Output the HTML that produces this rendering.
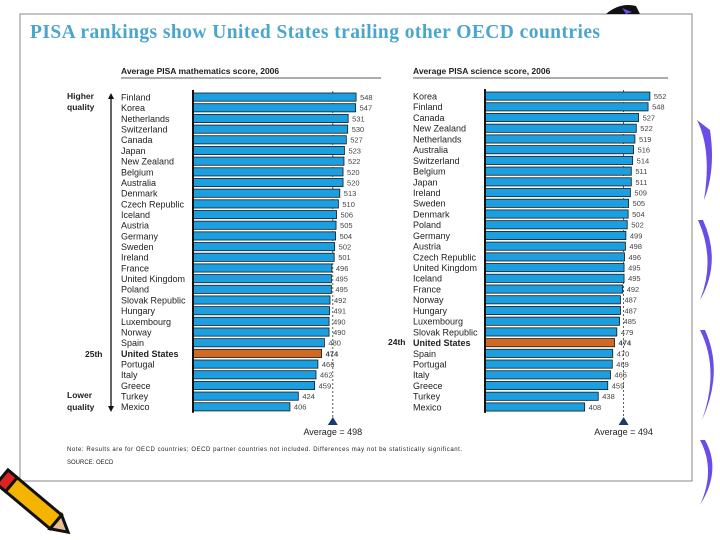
<!DOCTYPE html>
<html><head><meta charset="utf-8"><style>
body{margin:0;width:720px;height:540px;background:#fff;overflow:hidden;font-family:"Liberation Sans",sans-serif}
svg{position:absolute;left:0;top:0}
</style></head><body>
<svg id="s" width="720" height="540">
 <rect x="20" y="14" width="672" height="467" fill="#fff" stroke="#888" stroke-width="1"/>
 <text x="30" y="38" font-family="Liberation Serif,serif" font-weight="bold" font-size="19.5" fill="#4ba6cc" textLength="570">PISA rankings show United States trailing other OECD countries</text>
 <text x="121" y="74" font-size="8.5" font-weight="bold" fill="#222">Average PISA mathematics score, 2006</text>
 <line x1="121" y1="78" x2="381" y2="78" stroke="#222" stroke-width="0.8"/>
 <text x="413" y="74" font-size="8.5" font-weight="bold" fill="#222">Average PISA science score, 2006</text>
 <line x1="413" y1="78" x2="668" y2="78" stroke="#222" stroke-width="0.8"/>
 <text x="67" y="99" font-size="8.5" font-weight="bold" fill="#222">Higher</text>
 <text x="67" y="110" font-size="8.5" font-weight="bold" fill="#222">quality</text>
 <text x="67" y="398" font-size="8.5" font-weight="bold" fill="#222">Lower</text>
 <text x="67" y="410" font-size="8.5" font-weight="bold" fill="#222">quality</text>
 <line x1="111" y1="97" x2="111" y2="408" stroke="#111" stroke-width="1.3"/>
 <polygon points="108,99 114,99 111,93" fill="#111"/>
 <polygon points="108,406 114,406 111,412" fill="#111"/>
 <text x="85" y="357" font-size="8.5" font-weight="bold" fill="#222">25th</text>
 <text x="388" y="345" font-size="8.5" font-weight="bold" fill="#222">24th</text>
 <text x="67" y="451" font-size="6" fill="#222" textLength="395">Note: Results are for OECD countries; OECD partner countries not included. Differences may not be statistically significant.</text>
 <text x="67" y="464" font-size="6" fill="#222">SOURCE: OECD</text>
 <g>
  <path d="M606,14 Q620,2 636,6 L640,14 Z" fill="#111"/>
  <path d="M622,8 L632,12 L626,14 Z" fill="#6a4ce8"/>
  <path d="M697,120 Q712,150 704,200 Q716,170 710,130 Z" fill="#6a4ce8"/>
  <path d="M698,220 Q716,260 700,300 Q722,262 703,220 Z" fill="#6a4ce8"/>
  <path d="M700,330 Q720,370 702,420 Q724,372 705,330 Z" fill="#6a4ce8"/>
  <path d="M700,440 Q716,470 700,505 Q722,470 705,440 Z" fill="#6a4ce8"/>
  <g transform="translate(8,470) rotate(40)">
   <rect x="0" y="0" width="70" height="18" fill="#f4b400" stroke="#111" stroke-width="3"/>
   <rect x="0" y="0" width="12" height="18" fill="#d22" stroke="#111" stroke-width="3"/>
   <polygon points="70,0 86,9 70,18" fill="#e8c090" stroke="#111" stroke-width="3"/>
  </g>
 </g>
</svg>
<script>
const mathCountries=["Finland","Korea","Netherlands","Switzerland","Canada","Japan","New Zealand","Belgium","Australia","Denmark","Czech Republic","Iceland","Austria","Germany","Sweden","Ireland","France","United Kingdom","Poland","Slovak Republic","Hungary","Luxembourg","Norway","Spain","United States","Portugal","Italy","Greece","Turkey","Mexico"];
const mathScores=[548,547,531,530,527,523,522,520,520,513,510,506,505,504,502,501,496,495,495,492,491,490,490,480,474,466,462,459,424,406];
const mathAverage=498;
const sciCountries=["Korea","Finland","Canada","New Zealand","Netherlands","Australia","Switzerland","Belgium","Japan","Ireland","Sweden","Denmark","Poland","Germany","Austria","Czech Republic","United Kingdom","Iceland","France","Norway","Hungary","Luxembourg","Slovak Republic","United States","Spain","Portugal","Italy","Greece","Turkey","Mexico"];
const sciScores=[552,548,527,522,519,516,514,511,511,509,505,504,502,499,498,496,495,495,492,487,487,485,479,474,470,469,465,459,438,408];
const sciAverage=494;

const NS="http://www.w3.org/2000/svg",svg=document.getElementById('s');
function mk(t,a){const e=document.createElementNS(NS,t);for(const k in a)e.setAttribute(k,a[k]);svg.appendChild(e);return e;}
function panel(name,countries,scores,avg,labelX,axisX,v0,k,top,step){
  const xs=v=>axisX+(v-v0)*k, ys=i=>top+i*step;
  const ax=xs(avg);
  const dl=mk('line',{x1:ax,y1:top-6,x2:ax,y2:418,stroke:'#333','stroke-width':0.8,'stroke-dasharray':'2,2'});
  
  
  countries.forEach((c,i)=>{
    const y=ys(i),us=c==="United States";
    const t=mk('text',{x:labelX,y:y+3.5,'font-size':9,fill:'#222','font-weight':us?'bold':'normal'});
    t.textContent=c;
    
    
    const b=mk('rect',{x:axisX,y:y-4,width:xs(scores[i])-axisX,height:8.2,fill:us?'#cf6a25':'#1b9fe0',stroke:'#1a1a1a','stroke-width':0.8});
    
    
    const v=mk('text',{x:xs(scores[i])+4,y:y+3,'font-size':7.5,fill:'#444','font-weight':us?'bold':'normal'});
    v.textContent=scores[i];
    
    
  });
  const a=mk('line',{x1:axisX,y1:top-7,x2:axisX,y2:ys(countries.length-1)+6,stroke:'#111','stroke-width':2});
  
  
  const tri=mk('polygon',{points:`${ax-5},425 ${ax+5},425 ${ax},417`,fill:'#1a3a6a'});
  
  
  const at=mk('text',{x:ax,y:435,'font-size':9,fill:'#222','text-anchor':'middle'});
  at.textContent="Average = "+avg;
  
  
}
panel('math',mathCountries,mathScores,mathAverage,121,193,198,0.466,97,10.68);
panel('science',sciCountries,sciScores,sciAverage,413,485,188,0.453,96,10.72);
</script>
</body></html>
